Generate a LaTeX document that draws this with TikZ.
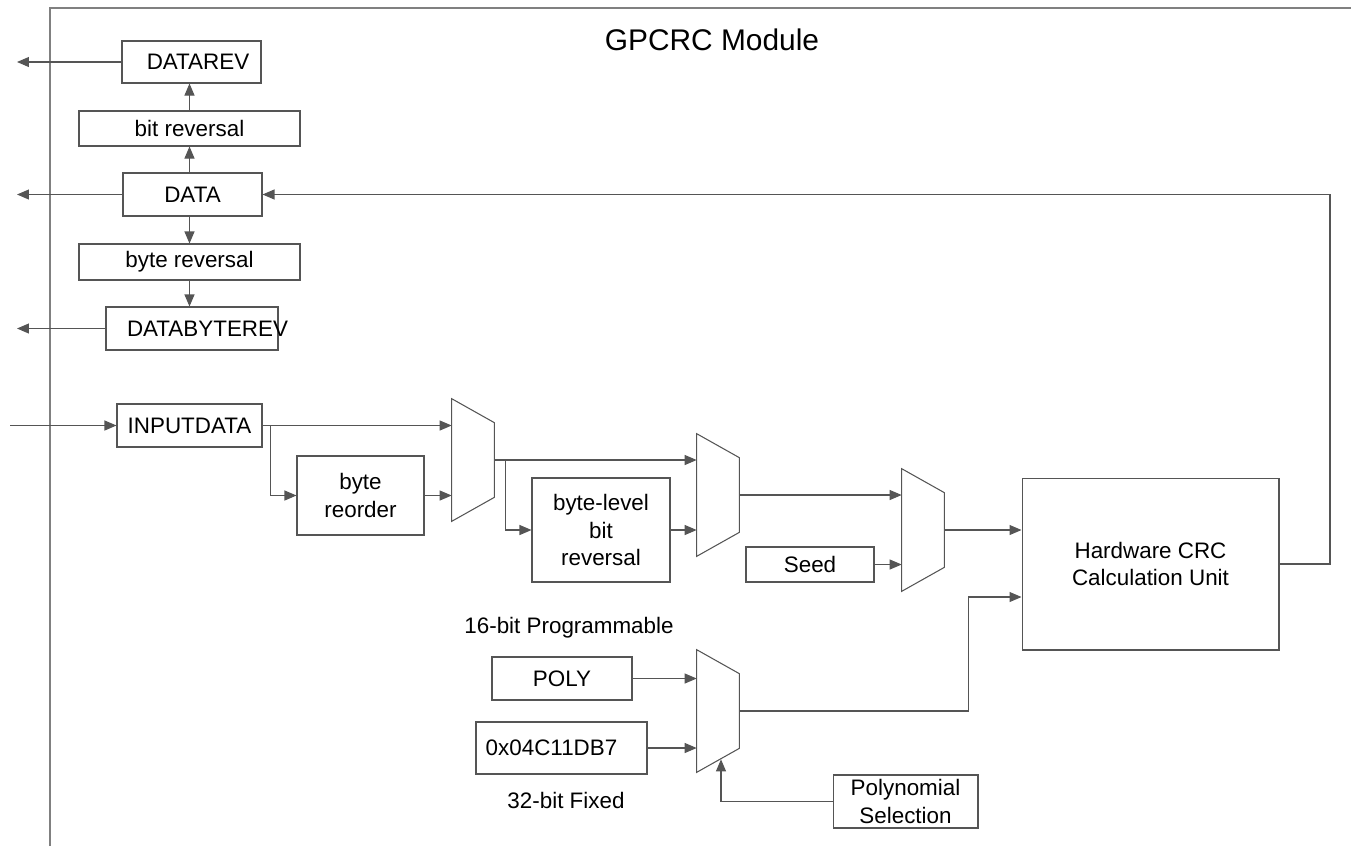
\documentclass[tikz,border=0pt]{standalone}
\usepackage{fontspec}
\setmainfont{Liberation Sans}
\usetikzlibrary{arrows.meta}
\definecolor{ln}{HTML}{555555}

\begin{document}
\begin{tikzpicture}[x=0.02cm, y=-0.02cm, font=\fontsize{12.75}{15.6}\selectfont, >={Triangle[length=2.4mm, width=2mm]},
  wire/.style={draw=ln, line width=0.6pt},
  box/.style={wire, align=center, inner sep=0pt, minimum height=0.86cm, fill=white},
  mux/.style={inner sep=0pt, minimum width=0.84cm, minimum height=2.44cm}]
\useasboundingbox (0,0) rectangle (1351,846);
% module frame
\draw[wire, draw=gray] (50,846) -- (50,8) -- (1351,8);
\node[font=\fontsize{17}{20}\selectfont] (title) at (712,40) {GPCRC Module};
% data registers
\node[box, minimum width=2.78cm, minimum height=0.84cm] (datarev) at (191.5,62) {\hspace{0.26cm}DATAREV};
\node[box, minimum width=4.42cm, minimum height=0.7cm] (bitrev) at (189.5,128.5) {bit reversal};
\node[box, minimum width=2.78cm] (data) at (192.5,194.5) {DATA};
\node[box, minimum width=4.42cm, minimum height=0.72cm] (byterev) at (189.5,262) {byte reversal};
\node[box, minimum width=3.44cm, label={[xshift=0.31cm]center:DATABYTEREV}] (dbrev) at (192,328.5) {};
% input path
\node[box, minimum width=2.9cm] (inputdata) at (189.5,425.5) {INPUTDATA};
\node[box, minimum width=2.54cm, minimum height=1.58cm] (reorder) at (360.5,495.5) {byte\\reorder};
\node[box, minimum width=2.76cm, minimum height=2.08cm] (blbr) at (601,530) {byte-level\\bit\\reversal};
\node[box, minimum width=2.56cm, minimum height=0.7cm] (seed) at (810,564.5) {Seed};
\node[box, minimum width=5.14cm, minimum height=3.44cm] (crc) at (1150.5,564) {Hardware CRC\\Calculation Unit};
% polynomial
\node (prog) at (569,628) {16-bit Programmable};
\node[box, minimum width=2.8cm] (poly) at (562,678.5) {POLY};
\node[box, minimum width=3.42cm, minimum height=1.04cm] (fixed) at (561.5,748) {0x04C11DB7\hspace{0.4cm}};
\node (fix) at (566,800) {32-bit Fixed};
\node[box, minimum width=2.9cm, minimum height=1.06cm] (polysel) at (905.5,801.5) {Polynomial\\Selection};
% muxes
\node[mux] (mA) at (473,460) {};
\node[mux] (mB) at (718,495) {};
\node[mux] (mC) at (923,530) {};
\node[mux] (mP) at (718,711) {};
\foreach \m in {mA,mB,mC,mP}
  \draw[wire] (\m.north west) -- ([yshift=-0.48cm]\m.north east) -- ([yshift=0.48cm]\m.south east) -- (\m.south west) -- cycle;
\coordinate (lft) at (17,0);
\coordinate (inp) at (10,425.5);
\coordinate (fb) at (1330,194.5);
% register outputs
\draw[->, wire] (datarev.west) -- (datarev.west -| lft);
\draw[->, wire] (data.west) -- (data.west -| lft);
\draw[->, wire] (dbrev.west) -- (dbrev.west -| lft);
\draw[->, wire] (bitrev.north) -- (bitrev.north |- datarev.south);
\draw[->, wire] (data.north -| bitrev.north) -- (bitrev.south);
\draw[->, wire] (data.south -| byterev.north) -- (byterev.north);
\draw[->, wire] (byterev.south) -- (byterev.south |- dbrev.north);
\draw[->, wire] (crc.east) -- (crc.east -| fb) -- (fb) -- (data.east);
% data path
\draw[->, wire] (inp) -- (inputdata.west);
\draw[->, wire] (inputdata.east) -- (inputdata.east -| mA.west);
\draw[->, wire] (inputdata.east) ++(8,0) |- (reorder.west);
\draw[->, wire] (reorder.east) -- (reorder.east -| mA.west);
\draw[->, wire] (mA.east) -- (mA.east -| mB.west);
\draw[->, wire] (mA.east) ++(11,0) |- (blbr.west);
\draw[->, wire] (blbr.east) -- (blbr.east -| mB.west);
\draw[->, wire] (mB.east) -- (mB.east -| mC.west);
\draw[->, wire] (seed.east) -- (seed.east -| mC.west);
\draw[->, wire] (mC.east) -- (mC.east -| crc.west);
\draw[->, wire] (poly.east) -- (poly.east -| mP.west);
\draw[->, wire] (fixed.east) -- (fixed.east -| mP.west);
\draw[->, wire] (mP.east) -- ++(229,0) |- ([yshift=-0.66cm]crc.west);
\draw[->, wire] (polysel.west) -| ([shift={(0.06cm,0.26cm)}]mP.south);
\end{tikzpicture}
\end{document}
